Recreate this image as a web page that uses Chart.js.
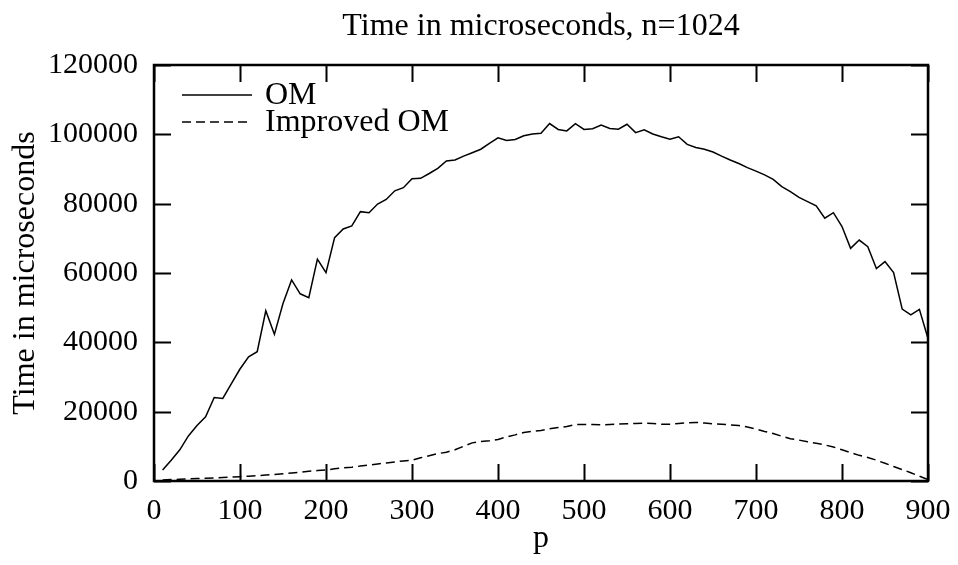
<!DOCTYPE html>
<html><head><meta charset="utf-8">
<script src="https://cdn.jsdelivr.net/npm/chart.js@4/dist/chart.umd.min.js"></script>
<style>html,body{margin:0;padding:0;background:#fff;}</style>
</head><body>
<canvas id="c" width="958" height="565"></canvas>
<script>
const chartTitle = "Time in microseconds, n=1024";
const xAxisTitle = "p";
const yAxisTitle = "Time in microseconds";
const seriesNames = ["OM", "Improved OM"];
const pValues = [10,20,30,40,50,60,70,80,90,100,110,120,130,140,150,160,170,180,190,200,
  210,220,230,240,250,260,270,280,290,300,310,320,330,340,350,360,370,380,390,400,
  410,420,430,440,450,460,470,480,490,500,510,520,530,540,550,560,570,580,590,600,
  610,620,630,640,650,660,670,680,690,700,710,720,730,740,750,760,770,780,790,800,
  810,820,830,840,850,860,870,880,890,900];
const omValues = [3200,6000,9000,13000,16000,18500,24100,23800,28100,32300,
  35800,37300,49100,42300,51200,58000,54000,52900,64000,60100,
  70200,72700,73600,77700,77400,79900,81200,83700,84600,87200,
  87300,88700,90200,92300,92600,93700,94700,95700,97400,99000,
  98200,98500,99600,100100,100300,103100,101400,101000,103100,101400,
  101600,102700,101700,101500,102900,100500,101300,100100,99300,98600,
  99300,97100,96200,95700,94900,93700,92600,91600,90400,89400,
  88300,87000,84900,83500,81800,80600,79400,75800,77400,73400,
  67100,69500,67600,61300,63300,60100,49600,47900,49500,41100];
const improvedValues = [300,400,500,600,700,800,900,1000,1100,1250,
  1400,1550,1700,1900,2100,2300,2500,2800,3000,3200,
  3500,3800,4000,4300,4600,4900,5200,5500,5800,6000,
  6700,7300,7900,8300,9000,10000,11000,11400,11600,12000,
  12700,13300,14000,14300,14600,15100,15400,15700,16300,16300,
  16300,16200,16300,16400,16500,16600,16700,16600,16400,16400,
  16600,16800,16900,16700,16500,16400,16200,16000,15600,15000,
  14300,13700,12900,12200,11800,11300,10900,10400,9800,9000,
  8200,7400,6800,6000,5100,4200,3300,2400,1400,400];
const xTickValues = [0,100,200,300,400,500,600,700,800,900];
const yTickValues = [0,20000,40000,60000,80000,100000,120000];

const FONT = "'Liberation Serif', 'Times New Roman', serif";

const framePlugin = {
  id: 'frame',
  afterDraw(chart) {
    const ctx = chart.ctx, a = chart.chartArea;
    const xs = chart.scales.x, ys = chart.scales.y;
    ctx.save();
    ctx.strokeStyle = '#000';
    ctx.lineWidth = 2;
    const tl = 17;
    xs.ticks.forEach((t, i) => {
      const px = Math.round(xs.getPixelForTick(i)) + 0.5;
      ctx.beginPath();
      ctx.moveTo(px, a.bottom); ctx.lineTo(px, a.bottom - tl);
      ctx.moveTo(px, a.top); ctx.lineTo(px, a.top + tl);
      ctx.stroke();
    });
    ys.ticks.forEach((t, i) => {
      const py = Math.round(ys.getPixelForTick(i)) + 0.5;
      ctx.beginPath();
      ctx.moveTo(a.left, py); ctx.lineTo(a.left + tl, py);
      ctx.moveTo(a.right, py); ctx.lineTo(a.right - tl, py);
      ctx.stroke();
    });
    ctx.lineWidth = 2.5;
    ctx.strokeRect(a.left, a.top, a.right - a.left, a.bottom - a.top);
    // legend inside plot
    ctx.font = "32px " + FONT;
    ctx.fillStyle = '#000';
    ctx.textBaseline = 'middle';
    ctx.textAlign = 'left';
    chart.data.datasets.forEach((ds, i) => {
      const y = a.top + 30 + i * 27;
      ctx.beginPath();
      ctx.lineWidth = ds.borderWidth;
      ctx.setLineDash(ds.borderDash || []);
      ctx.moveTo(a.left + 28, y); ctx.lineTo(a.left + 98, y);
      ctx.stroke();
      ctx.setLineDash([]);
      ctx.fillText(ds.label, a.left + 111, y + 1);
    });
    ctx.restore();
  }
};

new Chart(document.getElementById('c'), {
  type: 'line',
  data: {
    datasets: [
      { label: seriesNames[0], data: pValues.map((p, i) => ({x: p, y: omValues[i]})),
        borderColor: '#000', borderWidth: 1.5, pointRadius: 0, tension: 0, fill: false },
      { label: seriesNames[1], data: pValues.map((p, i) => ({x: p, y: improvedValues[i]})),
        borderColor: '#000', borderWidth: 1.5, borderDash: [9, 5], pointRadius: 0, tension: 0, fill: false }
    ]
  },
  options: {
    responsive: false,
    animation: false,
    devicePixelRatio: 1,
    layout: { padding: { left: 0, right: 30, top: 0, bottom: 0 } },
    plugins: {
      legend: { display: false },
      tooltip: { enabled: false },
      title: {
        display: true, text: chartTitle, fullSize: false, color: '#000',
        font: { family: FONT, size: 32, weight: 'normal', lineHeight: 1.2 },
        padding: { top: 7, bottom: 19.6 }
      }
    },
    scales: {
      x: {
        type: 'linear', min: 0, max: 900,
        afterBuildTicks: s => { s.ticks = xTickValues.map(v => ({value: v})); },
        afterFit: s => { s.height = 84; s.paddingLeft = 0; s.paddingRight = 0; },
        grid: { display: false, drawTicks: false },
        border: { display: false },
        ticks: { color: '#000', padding: 12, maxRotation: 0, font: { family: FONT, size: 30 } },
        title: { display: true, text: xAxisTitle, color: '#000', padding: { top: 0, bottom: 7 },
          font: { family: FONT, size: 32, lineHeight: 1.2 } }
      },
      y: {
        type: 'linear', min: 0, max: 120000,
        afterBuildTicks: s => { s.ticks = yTickValues.map(v => ({value: v})); },
        afterFit: s => { s.width = 154; },
        grid: { display: false, drawTicks: false },
        border: { display: false },
        ticks: { color: '#000', padding: 16, font: { family: FONT, size: 30 },
          callback: v => String(v) },
        title: { display: true, text: yAxisTitle, color: '#000', padding: { top: 6, bottom: 0 },
          font: { family: FONT, size: 32, lineHeight: 1.2 } }
      }
    }
  },
  plugins: [framePlugin]
});
</script>
</body></html>
